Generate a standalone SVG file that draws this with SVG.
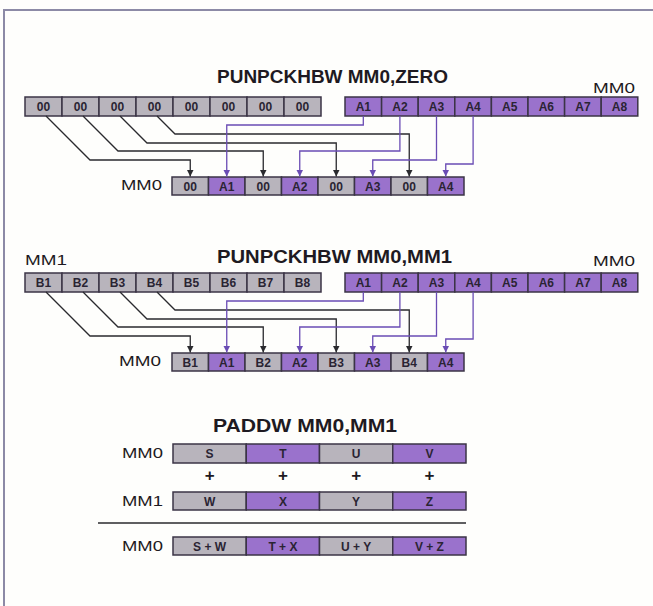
<svg xmlns="http://www.w3.org/2000/svg" width="653" height="606" viewBox="0 0 653 606">
<style>
.bg{fill:#fefefc}
.frame{fill:none;stroke:#8c8aa6;stroke-width:2}
.g{fill:#b8b4bc;stroke:#3b3446;stroke-width:1.5}
.p{fill:#9a72cc;stroke:#3b3446;stroke-width:1.5}
.ct{font-family:"Liberation Sans",Arial,sans-serif;font-size:12px;font-weight:bold;fill:#2a2433;text-anchor:middle}
.title{font-family:"Liberation Sans",Arial,sans-serif;font-size:18px;font-weight:bold;fill:#1e1a22;text-anchor:middle}
.lbl{font-family:"Liberation Sans",Arial,sans-serif;font-size:14px;fill:#1e1a22}
.plus{font-family:"Liberation Sans",Arial,sans-serif;font-size:17px;font-weight:bold;fill:#1e1a22;text-anchor:middle}
.kc{fill:none;stroke:#2a2a2e;stroke-width:1.3;marker-end:url(#ak)}
.pc{fill:none;stroke:#6a4cb4;stroke-width:1.3;marker-end:url(#ap)}
.sep{stroke:#2a2a2e;stroke-width:1.4}
</style>
<defs>
<marker id="ak" viewBox="0 0 8 8" refX="8" refY="4" markerWidth="7" markerHeight="7" markerUnits="userSpaceOnUse" orient="auto"><path d="M0,0 L8,4 L0,8 z" fill="#2a2a2e"/></marker>
<marker id="ap" viewBox="0 0 8 8" refX="8" refY="4" markerWidth="7" markerHeight="7" markerUnits="userSpaceOnUse" orient="auto"><path d="M0,0 L8,4 L0,8 z" fill="#6a4cb4"/></marker>
</defs>
<rect class="bg" x="0" y="0" width="653" height="606"/>
<path class="frame" d="M4,606 V10 H653"/>

<!-- Section 1 -->
<g id="title1"><text class="title" x="332.5" y="83" textLength="231" lengthAdjust="spacingAndGlyphs">PUNPCKHBW MM0,ZERO</text></g>
<g id="zero-row">
<rect class="g" x="25" y="97" width="37" height="19"/><text class="ct" x="43.5" y="110.5">00</text>
<rect class="g" x="62" y="97" width="37" height="19"/><text class="ct" x="80.5" y="110.5">00</text>
<rect class="g" x="99" y="97" width="37" height="19"/><text class="ct" x="117.5" y="110.5">00</text>
<rect class="g" x="136" y="97" width="37" height="19"/><text class="ct" x="154.5" y="110.5">00</text>
<rect class="g" x="173" y="97" width="37" height="19"/><text class="ct" x="191.5" y="110.5">00</text>
<rect class="g" x="210" y="97" width="37" height="19"/><text class="ct" x="228.5" y="110.5">00</text>
<rect class="g" x="247" y="97" width="37" height="19"/><text class="ct" x="265.5" y="110.5">00</text>
<rect class="g" x="284" y="97" width="37" height="19"/><text class="ct" x="302.5" y="110.5">00</text>
</g>
<g id="mm0-src1">
<text class="lbl" x="635" y="93" text-anchor="end" textLength="42" lengthAdjust="spacingAndGlyphs">MM0</text>
<rect class="p" x="345" y="97" width="36.6" height="19"/><text class="ct" x="363.3" y="110.5">A1</text>
<rect class="p" x="381.6" y="97" width="36.6" height="19"/><text class="ct" x="399.9" y="110.5">A2</text>
<rect class="p" x="418.2" y="97" width="36.6" height="19"/><text class="ct" x="436.5" y="110.5">A3</text>
<rect class="p" x="454.8" y="97" width="36.6" height="19"/><text class="ct" x="473.1" y="110.5">A4</text>
<rect class="p" x="491.4" y="97" width="36.6" height="19"/><text class="ct" x="509.7" y="110.5">A5</text>
<rect class="p" x="528" y="97" width="36.6" height="19"/><text class="ct" x="546.3" y="110.5">A6</text>
<rect class="p" x="564.6" y="97" width="36.6" height="19"/><text class="ct" x="582.9" y="110.5">A7</text>
<rect class="p" x="601.2" y="97" width="36.6" height="19"/><text class="ct" x="619.5" y="110.5">A8</text>
</g>
<g id="mm0-dst1">
<text class="lbl" x="162" y="190" text-anchor="end" textLength="41" lengthAdjust="spacingAndGlyphs">MM0</text>
<rect class="g" x="172" y="177" width="36.5" height="18"/><text class="ct" x="190.25" y="190.5">00</text>
<rect class="p" x="208.5" y="177" width="36.5" height="18"/><text class="ct" x="226.75" y="190.5">A1</text>
<rect class="g" x="245" y="177" width="36.5" height="18"/><text class="ct" x="263.25" y="190.5">00</text>
<rect class="p" x="281.5" y="177" width="36.5" height="18"/><text class="ct" x="299.75" y="190.5">A2</text>
<rect class="g" x="318" y="177" width="36.5" height="18"/><text class="ct" x="336.25" y="190.5">00</text>
<rect class="p" x="354.5" y="177" width="36.5" height="18"/><text class="ct" x="372.75" y="190.5">A3</text>
<rect class="g" x="391" y="177" width="36.5" height="18"/><text class="ct" x="409.25" y="190.5">00</text>
<rect class="p" x="427.5" y="177" width="36.5" height="18"/><text class="ct" x="445.75" y="190.5">A4</text>
</g>

<!-- Section 2 -->
<g id="title2"><text class="title" x="334.5" y="263" textLength="235" lengthAdjust="spacingAndGlyphs">PUNPCKHBW MM0,MM1</text></g>
<g id="mm1-src">
<text class="lbl" x="25" y="265" textLength="42" lengthAdjust="spacingAndGlyphs">MM1</text>
<rect class="g" x="25" y="273" width="37" height="19"/><text class="ct" x="43.5" y="286.5">B1</text>
<rect class="g" x="62" y="273" width="37" height="19"/><text class="ct" x="80.5" y="286.5">B2</text>
<rect class="g" x="99" y="273" width="37" height="19"/><text class="ct" x="117.5" y="286.5">B3</text>
<rect class="g" x="136" y="273" width="37" height="19"/><text class="ct" x="154.5" y="286.5">B4</text>
<rect class="g" x="173" y="273" width="37" height="19"/><text class="ct" x="191.5" y="286.5">B5</text>
<rect class="g" x="210" y="273" width="37" height="19"/><text class="ct" x="228.5" y="286.5">B6</text>
<rect class="g" x="247" y="273" width="37" height="19"/><text class="ct" x="265.5" y="286.5">B7</text>
<rect class="g" x="284" y="273" width="37" height="19"/><text class="ct" x="302.5" y="286.5">B8</text>
</g>
<g id="mm0-src2">
<text class="lbl" x="635" y="266" text-anchor="end" textLength="42" lengthAdjust="spacingAndGlyphs">MM0</text>
<rect class="p" x="345" y="273" width="36.6" height="19"/><text class="ct" x="363.3" y="286.5">A1</text>
<rect class="p" x="381.6" y="273" width="36.6" height="19"/><text class="ct" x="399.9" y="286.5">A2</text>
<rect class="p" x="418.2" y="273" width="36.6" height="19"/><text class="ct" x="436.5" y="286.5">A3</text>
<rect class="p" x="454.8" y="273" width="36.6" height="19"/><text class="ct" x="473.1" y="286.5">A4</text>
<rect class="p" x="491.4" y="273" width="36.6" height="19"/><text class="ct" x="509.7" y="286.5">A5</text>
<rect class="p" x="528" y="273" width="36.6" height="19"/><text class="ct" x="546.3" y="286.5">A6</text>
<rect class="p" x="564.6" y="273" width="36.6" height="19"/><text class="ct" x="582.9" y="286.5">A7</text>
<rect class="p" x="601.2" y="273" width="36.6" height="19"/><text class="ct" x="619.5" y="286.5">A8</text>
</g>
<g id="mm0-dst2">
<text class="lbl" x="161" y="366" text-anchor="end" textLength="42" lengthAdjust="spacingAndGlyphs">MM0</text>
<rect class="g" x="172" y="353" width="36.5" height="18"/><text class="ct" x="190.25" y="366.5">B1</text>
<rect class="p" x="208.5" y="353" width="36.5" height="18"/><text class="ct" x="226.75" y="366.5">A1</text>
<rect class="g" x="245" y="353" width="36.5" height="18"/><text class="ct" x="263.25" y="366.5">B2</text>
<rect class="p" x="281.5" y="353" width="36.5" height="18"/><text class="ct" x="299.75" y="366.5">A2</text>
<rect class="g" x="318" y="353" width="36.5" height="18"/><text class="ct" x="336.25" y="366.5">B3</text>
<rect class="p" x="354.5" y="353" width="36.5" height="18"/><text class="ct" x="372.75" y="366.5">A3</text>
<rect class="g" x="391" y="353" width="36.5" height="18"/><text class="ct" x="409.25" y="366.5">B4</text>
<rect class="p" x="427.5" y="353" width="36.5" height="18"/><text class="ct" x="445.75" y="366.5">A4</text>
</g>

<!-- Connectors -->
<g id="connectors">
<path class="kc" d="M46,116 L90,160 H190.25 V176.5"/>
<path class="kc" d="M83,116 L118,151 H263.25 V176.5"/>
<path class="kc" d="M120,116 L147,143 H336.25 V176.5"/>
<path class="kc" d="M157,116 L175,134 H409.25 V176.5"/>
<path class="pc" d="M363.3,116 V125 H226.75 V176.5"/>
<path class="pc" d="M399.9,116 V151 H299.75 V176.5"/>
<path class="pc" d="M436.5,116 V160 H372.75 V176.5"/>
<path class="pc" d="M473.1,116 V164 H445.75 V176.5"/>

<path class="kc" d="M46,292 L90,336 H190.25 V352.5"/>
<path class="kc" d="M83,292 L118,327 H263.25 V352.5"/>
<path class="kc" d="M120,292 L147,319 H336.25 V352.5"/>
<path class="kc" d="M157,292 L175,310 H409.25 V352.5"/>
<path class="pc" d="M363.3,292 V301 H226.75 V352.5"/>
<path class="pc" d="M399.9,292 V327 H299.75 V352.5"/>
<path class="pc" d="M436.5,292 V336 H372.75 V352.5"/>
<path class="pc" d="M473.1,292 V339 H445.75 V352.5"/>
</g>

<!-- Section 3 -->
<g id="title3"><text class="title" x="305" y="432" textLength="184" lengthAdjust="spacingAndGlyphs">PADDW MM0,MM1</text></g>
<g id="paddw-mm0">
<text class="lbl" x="163" y="458" text-anchor="end" textLength="41" lengthAdjust="spacingAndGlyphs">MM0</text>
<rect class="g" x="173" y="444" width="73.25" height="19"/><text class="ct" x="209.6" y="458">S</text>
<rect class="p" x="246.25" y="444" width="73.25" height="19"/><text class="ct" x="282.9" y="458">T</text>
<rect class="g" x="319.5" y="444" width="73.25" height="19"/><text class="ct" x="356.1" y="458">U</text>
<rect class="p" x="392.75" y="444" width="73.25" height="19"/><text class="ct" x="429.4" y="458">V</text>
</g>
<g id="plus">
<text class="plus" x="209.6" y="481">+</text>
<text class="plus" x="282.9" y="481">+</text>
<text class="plus" x="356.1" y="481">+</text>
<text class="plus" x="429.4" y="481">+</text>
</g>
<g id="paddw-mm1">
<text class="lbl" x="163" y="506" text-anchor="end" textLength="41" lengthAdjust="spacingAndGlyphs">MM1</text>
<rect class="g" x="173" y="492" width="73.25" height="18"/><text class="ct" x="209.6" y="505.5">W</text>
<rect class="p" x="246.25" y="492" width="73.25" height="18"/><text class="ct" x="282.9" y="505.5">X</text>
<rect class="g" x="319.5" y="492" width="73.25" height="18"/><text class="ct" x="356.1" y="505.5">Y</text>
<rect class="p" x="392.75" y="492" width="73.25" height="18"/><text class="ct" x="429.4" y="505.5">Z</text>
</g>
<line class="sep" x1="98" y1="523" x2="466" y2="523"/>
<g id="paddw-result">
<text class="lbl" x="163" y="551" text-anchor="end" textLength="41" lengthAdjust="spacingAndGlyphs">MM0</text>
<rect class="g" x="173" y="537" width="73.25" height="18"/><text class="ct" x="209.6" y="550.5">S + W</text>
<rect class="p" x="246.25" y="537" width="73.25" height="18"/><text class="ct" x="282.9" y="550.5">T + X</text>
<rect class="g" x="319.5" y="537" width="73.25" height="18"/><text class="ct" x="356.1" y="550.5">U + Y</text>
<rect class="p" x="392.75" y="537" width="73.25" height="18"/><text class="ct" x="429.4" y="550.5">V + Z</text>
</g>
</svg>
